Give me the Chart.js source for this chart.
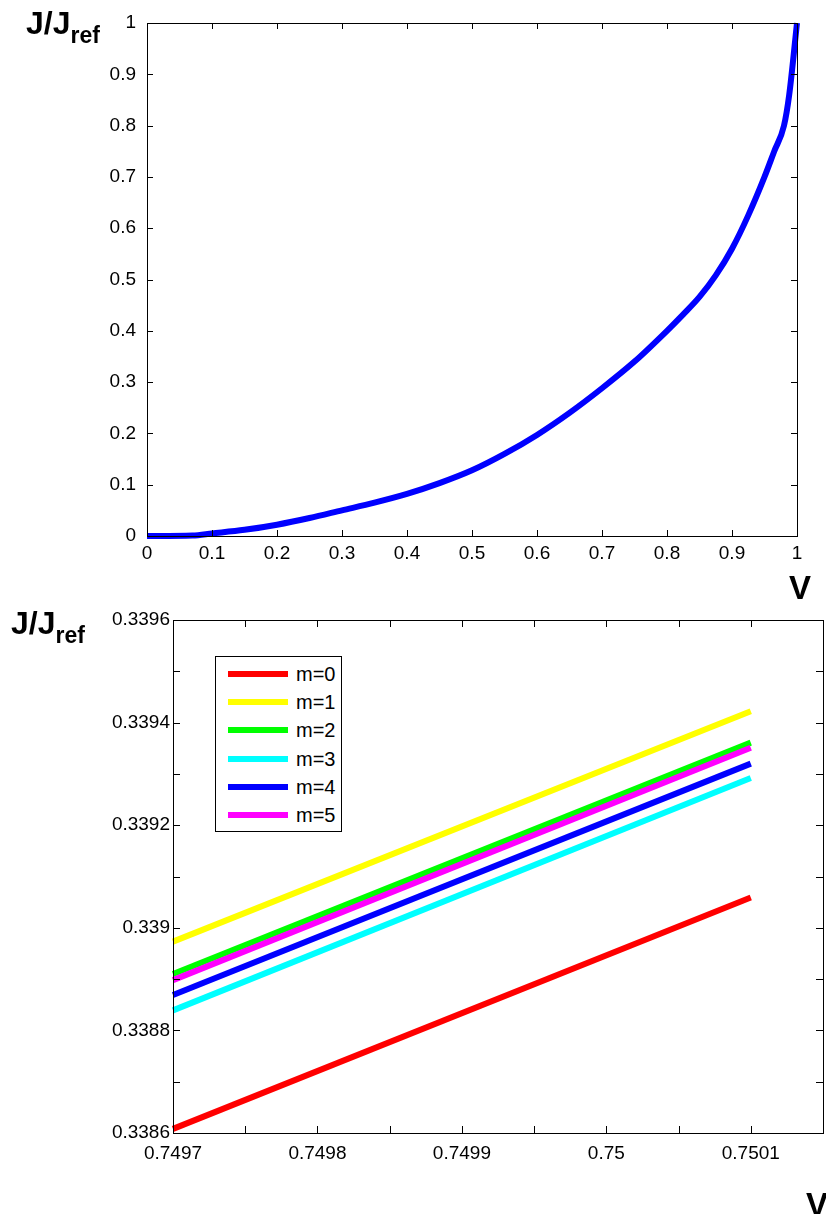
<!DOCTYPE html>
<html>
<head>
<meta charset="utf-8">
<script src="https://cdn.jsdelivr.net/npm/chart.js@4.4.1/dist/chart.umd.min.js"></script>
<style>
  body { margin: 0; background: #fff; font-family: "Liberation Sans", Arial, sans-serif; }
  #page { position: relative; width: 826px; height: 1214px; overflow: hidden; background: #fff; }
  .box { position: absolute; left: 0; width: 826px; }
  .ylab { position: absolute; font-weight: bold; font-size: 32px; line-height: 1; white-space: nowrap; }
  .ylab sub { font-size: 23px; vertical-align: -9px; }
  .xlab { position: absolute; font-weight: bold; font-size: 33px; line-height: 1; }
  #legend { position: absolute; left: 215px; top: 656px; width: 125px; height: 174px;
            border: 1px solid #000; background: #fff; }
  #legend .row { position: absolute; left: 0; height: 24px; width: 125px; }
  #legend .swatch { position: absolute; left: 12px; top: 9px; width: 60px; height: 6px; }
  #legend .txt { position: absolute; left: 80px; top: 2px; font-size: 20px; line-height: 20px; }
</style>
</head>
<body>
<div id="page">
  <div class="box" style="top:0; height:600px;"><canvas id="chart-1"></canvas></div>
  <div class="box" style="top:600px; height:614px;"><canvas id="chart-2"></canvas></div>
  <div class="ylab" style="left:26px; top:7px;">J/J<sub>ref</sub></div>
  <div class="ylab" style="left:11px; top:607px;">J/J<sub>ref</sub></div>
  <div class="xlab" style="left:789px; top:571px;">V</div>
  <div class="xlab" style="left:806px; top:1188px;">V</div>
  <div id="legend"></div>
</div>
<script>
// top panel: full J-V curve
const topV = [0, 0.07, 0.1, 0.15, 0.2, 0.25, 0.3, 0.35, 0.4, 0.45, 0.5, 0.55, 0.6, 0.65, 0.7,
              0.75, 0.8, 0.825, 0.85, 0.875, 0.9, 0.925, 0.95, 0.965, 0.98, 0.988, 1];
const topJ = [0, 0.001, 0.005, 0.012, 0.022, 0.035, 0.05, 0.065, 0.082, 0.103, 0.128, 0.16, 0.197, 0.24, 0.288,
              0.34, 0.4, 0.432, 0.466, 0.508, 0.56, 0.625, 0.7, 0.75, 0.8, 0.86, 1.0];
const topXTicks = [0, 0.1, 0.2, 0.3, 0.4, 0.5, 0.6, 0.7, 0.8, 0.9, 1];
const topXLabels = ['0', '0.1', '0.2', '0.3', '0.4', '0.5', '0.6', '0.7', '0.8', '0.9', '1'];
const topYTicks = [0, 0.1, 0.2, 0.3, 0.4, 0.5, 0.6, 0.7, 0.8, 0.9, 1];
const topYLabels = ['0', '0.1', '0.2', '0.3', '0.4', '0.5', '0.6', '0.7', '0.8', '0.9', '1'];

// bottom panel: zoom near V = 0.75 for m = 0..5
const zoomV = [0.7497, 0.7501];
const seriesNames = ['m=0', 'm=1', 'm=2', 'm=3', 'm=4', 'm=5'];
const seriesColors = ['#ff0000', '#ffff00', '#00ff00', '#00ffff', '#0000ff', '#ff00ff'];
const m0 = [0.338608, 0.339059];
const m1 = [0.338973, 0.339422];
const m2 = [0.338910, 0.339361];
const m3 = [0.338839, 0.339292];
const m4 = [0.338869, 0.339320];
const m5 = [0.338898, 0.339351];
const zoomXTicks = [0.7497, 0.74975, 0.7498, 0.74985, 0.7499, 0.74995, 0.75, 0.75005, 0.7501, 0.75015];
const zoomXLabels = ['0.7497', '', '0.7498', '', '0.7499', '', '0.75', '', '0.7501', ''];
const zoomYTicks = [0.3386, 0.3387, 0.3388, 0.3389, 0.339, 0.3391, 0.3392, 0.3393, 0.3394, 0.3395, 0.3396];
const zoomYLabels = ['0.3386', '', '0.3388', '', '0.339', '', '0.3392', '', '0.3394', '', '0.3396'];

const FONT = '"Liberation Sans", Arial, sans-serif';

// box around plot area + inward ticks on all four sides
const boxTicks = {
    id: 'boxTicks',
    afterDraw(chart, args, opts) {
        const { ctx, chartArea: a, scales } = chart;
        const L = opts.len || 7;
        ctx.save();
        ctx.strokeStyle = '#000';
        ctx.lineWidth = 1;
        ctx.strokeRect(a.left + 0.5, a.top + 0.5, a.right - a.left, a.bottom - a.top);
        ctx.beginPath();
        scales.x.ticks.forEach(t => {
            const x = Math.round(scales.x.getPixelForValue(t.value)) + 0.5;
            ctx.moveTo(x, a.bottom); ctx.lineTo(x, a.bottom - L);
            ctx.moveTo(x, a.top); ctx.lineTo(x, a.top + L);
        });
        scales.y.ticks.forEach(t => {
            const y = Math.round(scales.y.getPixelForValue(t.value)) + 0.5;
            ctx.moveTo(a.left, y); ctx.lineTo(a.left + L, y);
            ctx.moveTo(a.right, y); ctx.lineTo(a.right - L, y);
        });
        ctx.stroke();
        ctx.restore();
    }
};

function axis(min, max, tickVals, tickLabels, fontSize, pad, fit) {
    return {
        type: 'linear',
        min: min,
        max: max,
        grid: { display: false, drawTicks: false },
        border: { display: false },
        afterBuildTicks: s => { s.ticks = tickVals.map(v => ({ value: v })); },
        afterFit: fit,
        ticks: {
            autoSkip: false,
            maxRotation: 0,
            padding: pad,
            color: '#000',
            font: { family: FONT, size: fontSize },
            callback: (v, i) => tickLabels[i]
        }
    };
}

const chart1 = new Chart(document.getElementById('chart-1').getContext('2d'), {
    type: 'line',
    data: {
        datasets: [{
            data: topV.map((v, i) => ({ x: v, y: topJ[i] })),
            borderColor: '#0000ff',
            borderWidth: 6,
            pointRadius: 0,
            cubicInterpolationMode: 'monotone',
            clip: false
        }]
    },
    options: {
        responsive: true,
        maintainAspectRatio: false,
        animation: false,
        layout: { padding: { left: 0, top: 23, right: 29, bottom: 0 } },
        plugins: { legend: { display: false }, tooltip: { enabled: false }, boxTicks: { len: 6 } },
        scales: {
            x: axis(0, 1, topXTicks, topXLabels, 19, 6, s => { s.height = 64; s.paddingLeft = 0; s.paddingRight = 0; }),
            y: axis(0, 1, topYTicks, topYLabels, 19, 11, s => { s.width = 147; })
        }
    },
    plugins: [boxTicks]
});

const zoomSeries = [m0, m1, m2, m3, m4, m5];
const chart2 = new Chart(document.getElementById('chart-2').getContext('2d'), {
    type: 'line',
    data: {
        datasets: zoomSeries.map((vals, k) => ({
            label: seriesNames[k],
            data: zoomV.map((v, i) => ({ x: v, y: vals[i] })),
            borderColor: seriesColors[k],
            borderWidth: 6,
            pointRadius: 0,
            tension: 0,
            clip: false,
            order: zoomSeries.length - k   // later series drawn on top
        }))
    },
    options: {
        responsive: true,
        maintainAspectRatio: false,
        animation: false,
        layout: { padding: { left: 0, top: 20, right: 3, bottom: 0 } },
        plugins: { legend: { display: false }, tooltip: { enabled: false }, boxTicks: { len: 7 } },
        scales: {
            x: axis(0.7497, 0.75015, zoomXTicks, zoomXLabels, 19, 9, s => { s.height = 81; s.paddingLeft = 0; s.paddingRight = 0; }),
            y: axis(0.3386, 0.3396, zoomYTicks, zoomYLabels, 19, 3, s => { s.width = 173; })
        }
    },
    plugins: [boxTicks]
});

// legend box inside the lower plot, built from the chart's datasets
const legendEl = document.getElementById('legend');
chart2.data.datasets.forEach((ds, i) => {
    const row = document.createElement('div');
    row.className = 'row';
    row.style.top = (5 + i * 28.2) + 'px';
    const sw = document.createElement('span');
    sw.className = 'swatch';
    sw.style.background = ds.borderColor;
    const tx = document.createElement('span');
    tx.className = 'txt';
    tx.textContent = ds.label;
    row.appendChild(sw);
    row.appendChild(tx);
    legendEl.appendChild(row);
});
</script>
</body>
</html>
